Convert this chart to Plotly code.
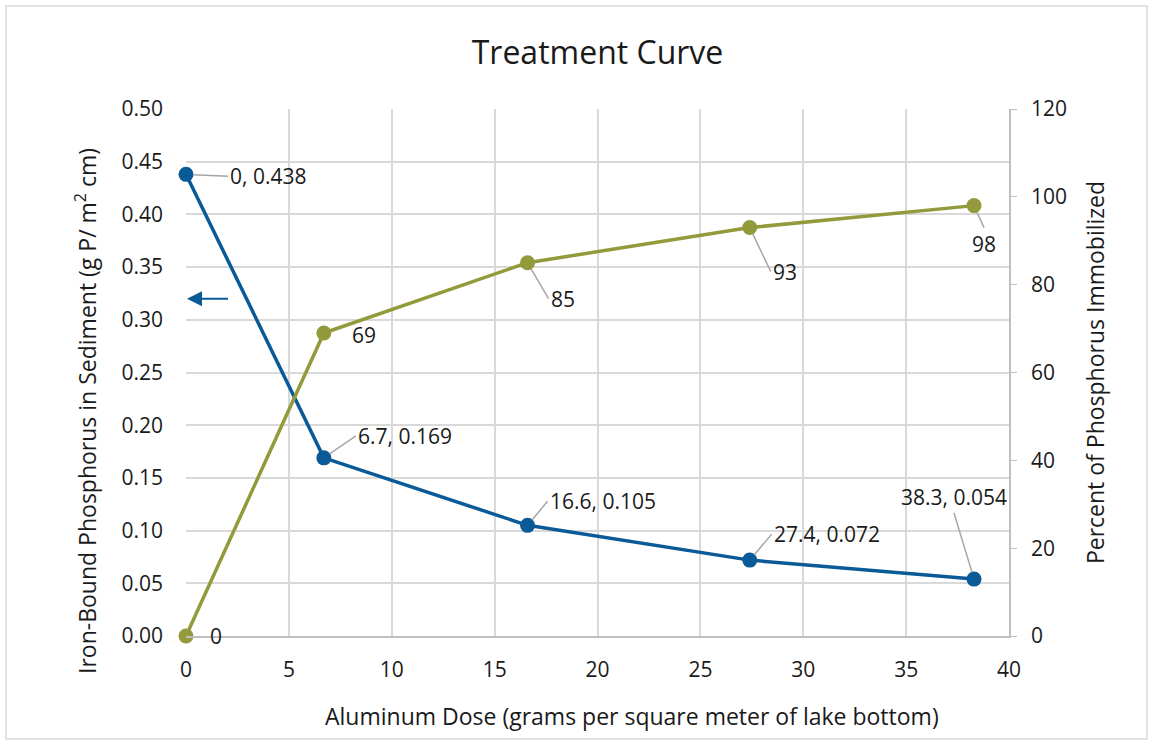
import plotly.graph_objects as go

# Treatment curve data
dose = [0, 6.7, 16.6, 27.4, 38.3]
iron_p = [0.438, 0.169, 0.105, 0.072, 0.054]
pct_immobilized = [0, 69, 85, 93, 98]

x_ticks = [0, 5, 10, 15, 20, 25, 30, 35, 40]

X_TITLE = "Aluminum Dose (grams per square meter of lake bottom)"
Y_TITLE = "Iron-Bound Phosphorus in Sediment (g P/ m<sup>2</sup> cm)"
Y2_TITLE = "Percent of Phosphorus Immobilized"

BLUE = "#0B5A98"
GREEN = "#929A3B"
GRID = "#d9d9d9"
LEADER = "#a6a6a6"
FONT = "Open Sans"
TXT = "#1a1a1a"

W, H = 1153, 745
ML, MR, MT, MB = 186, 144, 109, 109
PW, PH = W - ML - MR, H - MT - MB

TICK_SIZE = 21
LABEL_SIZE = 21
AXTITLE_SIZE = 23


def px_to_paper(px, py):
    """Convert a pixel position on the page to paper coordinates."""
    return (px - ML) / PW, (H - MB - py) / PH


fig = go.Figure()

fig.add_trace(go.Scatter(
    x=dose, y=iron_p, mode="lines+markers", name="Iron-Bound P",
    line=dict(color=BLUE, width=3.5), marker=dict(color=BLUE, size=15),
    cliponaxis=False, yaxis="y"))

fig.add_trace(go.Scatter(
    x=dose, y=pct_immobilized, mode="lines+markers", name="Percent Immobilized",
    line=dict(color=GREEN, width=3.5), marker=dict(color=GREEN, size=15),
    cliponaxis=False, yaxis="y2"))

annos = []

# Data labels for the iron-bound phosphorus series: (ax, ay, xanchor, yanchor)
blue_offsets = [(42, 2, "left", "middle"),
                (32, -22, "left", "middle"),
                (20, -24, "left", "middle"),
                (22, -26, "left", "middle"),
                (-20, -66, "center", "bottom")]
for x, y, (ax, ay, xa, ya) in zip(dose, iron_p, blue_offsets):
    annos.append(dict(
        x=x, y=y, xref="x", yref="y", text=f"{x:g}, {y:.3f}",
        showarrow=True, arrowhead=0, arrowwidth=1.5, arrowcolor=LEADER,
        ax=ax, ay=ay, xanchor=xa, yanchor=ya, standoff=7,
        font=dict(family=FONT, size=LABEL_SIZE, color=TXT)))

# Data labels for the percent-immobilized series
green_offsets = [(None, (22, 0), "left", "middle"),
                 (None, (26, -2), "left", "middle"),
                 ((21, 36), None, "left", "middle"),
                 ((21, 44), None, "left", "middle"),
                 ((10, 22), None, "center", "top")]
for x, y, (arr, shift, xa, ya) in zip(dose, pct_immobilized, green_offsets):
    a = dict(x=x, y=y, xref="x", yref="y2", text=f"{y:g}",
             xanchor=xa, yanchor=ya,
             font=dict(family=FONT, size=LABEL_SIZE, color=TXT))
    if arr is None:
        a.update(showarrow=False, xshift=shift[0], yshift=shift[1])
    else:
        a.update(showarrow=True, arrowhead=0, arrowwidth=1.5, arrowcolor=LEADER,
                 ax=arr[0], ay=arr[1], standoff=7)
    annos.append(a)

# Arrow pointing to the left axis for the blue series
annos.append(dict(
    x=0, y=0.32, xref="x", yref="y", text=" ", showarrow=True,
    arrowhead=2, arrowsize=1.5, arrowwidth=2, arrowcolor=BLUE,
    ax=44, ay=0, standoff=1, font=dict(size=2)))

# Axis titles placed as free text
xt = px_to_paper(632, 716)
annos.append(dict(x=xt[0], y=xt[1], xref="paper", yref="paper", text=X_TITLE,
                  showarrow=False, xanchor="center", yanchor="middle",
                  font=dict(family=FONT, size=AXTITLE_SIZE, color=TXT)))
yt = px_to_paper(86, 411)
annos.append(dict(x=yt[0], y=yt[1], xref="paper", yref="paper", text=Y_TITLE,
                  showarrow=False, xanchor="center", yanchor="middle",
                  textangle=-90,
                  font=dict(family=FONT, size=AXTITLE_SIZE, color=TXT)))

fig.update_layout(
    width=W, height=H,
    margin=dict(l=ML, r=MR, t=MT, b=MB),
    paper_bgcolor="white", plot_bgcolor="white",
    showlegend=False,
    font=dict(family=FONT, size=TICK_SIZE, color=TXT),
    title=dict(text="Treatment Curve", x=(ML + PW / 2) / W,
               xanchor="center", y=1 - 53 / H, yanchor="middle",
               font=dict(family=FONT, size=32, color=TXT)),
    xaxis=dict(
        range=[0, 40], tickvals=x_ticks, showgrid=True, gridcolor=GRID,
        gridwidth=1.5, zeroline=False, showline=True, linecolor="#bfbfbf",
        linewidth=1.5, ticks="", tickfont=dict(size=TICK_SIZE),
        ticklabelstandoff=14),
    yaxis=dict(
        range=[0, 0.5], dtick=0.05, tickformat=".2f", showgrid=True,
        gridcolor=GRID, gridwidth=1.5, zeroline=False, showline=False,
        ticks="", tickfont=dict(size=TICK_SIZE), ticklabelstandoff=22),
    yaxis2=dict(
        range=[0, 120], dtick=20, overlaying="y", side="right",
        showgrid=False, zeroline=False, showline=True, linecolor="#bfbfbf",
        linewidth=1.5, ticks="outside", ticklen=6, tickcolor="#bfbfbf",
        tickfont=dict(size=TICK_SIZE), ticklabelstandoff=10,
        title=dict(text=Y2_TITLE, font=dict(size=AXTITLE_SIZE), standoff=22)),
    annotations=annos,
)

# Light chart border around the whole figure
x0, y0 = px_to_paper(6, H - 6)
x1, y1 = px_to_paper(W - 6, 6)
fig.add_shape(type="rect", xref="paper", yref="paper",
              x0=x0, x1=x1, y0=y0, y1=y1,
              line=dict(color="#d9d9d9", width=1.5), layer="below")

fig.write_html("out.html")
